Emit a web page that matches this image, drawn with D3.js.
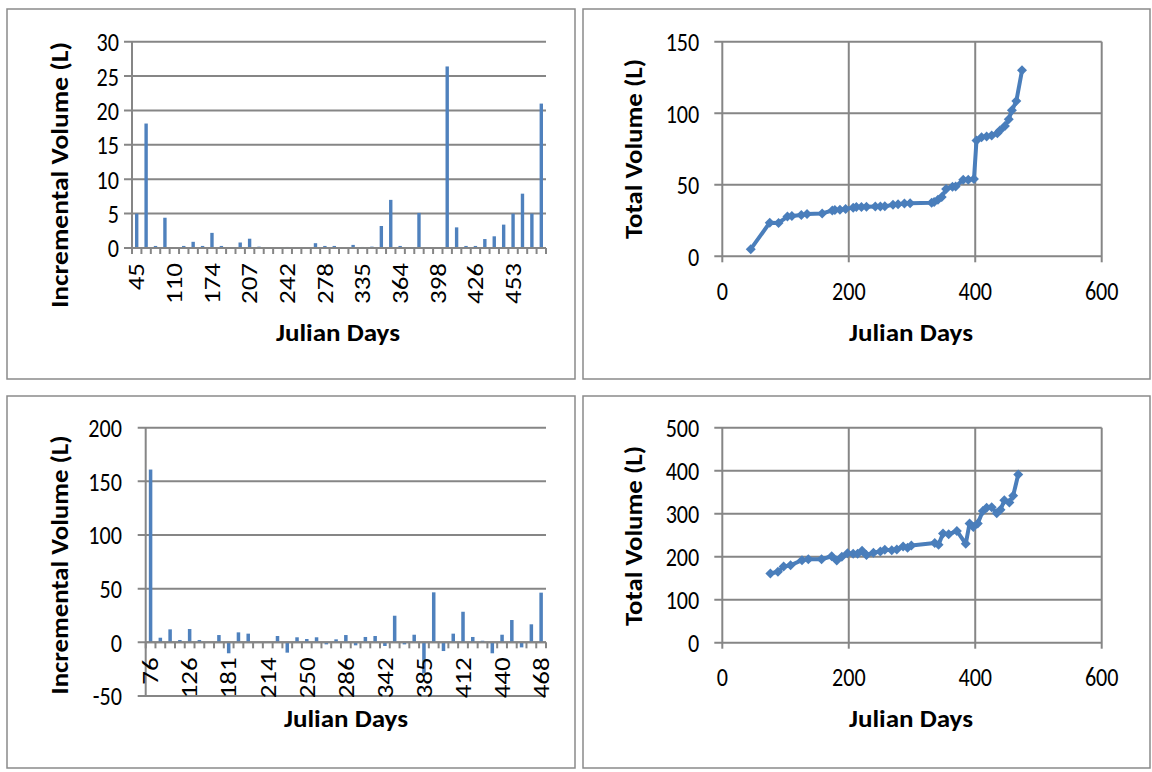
<!DOCTYPE html>
<html>
<head>
<meta charset="utf-8">
<script src="https://cdn.jsdelivr.net/npm/d3@7"></script>
<style>
  body { margin: 0; background: #fff; }
  svg text { font-family: Carlito, "Liberation Sans Narrow", "Open Sans", sans-serif; fill: #000; }
  .tick-label { font-size: 27px; }
  .title { font-size: 24px; font-weight: bold; }
  .grid { stroke: #868686; stroke-width: 2; }
  .box { fill: none; stroke: #8a8a8a; stroke-width: 1.5; }
</style>
</head>
<body>
<svg width="1152" height="772"></svg>
<script>
// ---- data ----
// site 1 (top row)
const days1 = [45, 75, 89, 103, 110, 125, 134, 158, 174, 178, 186, 195, 207, 212, 220, 228,
               242, 250, 257, 270, 278, 288, 297, 331, 335, 341, 347, 354, 364, 369, 381, 389,
               398, 402, 410, 418, 426, 435, 439, 447, 453, 458, 465, 474];
const incr1 = [5, 18.1, 0.3, 4.4, 0, 0.3, 0.9, 0.3, 2.2, 0.3, 0, 0.8, 1.35, 0.2, 0, 0,
               0.15, 0, 0, 0.7, 0.3, 0.3, 0, 0.45, 0.15, 0.2, 3.2, 7.0, 0.3, 0.1, 5.1, 0,
               0, 26.4, 3.0, 0.3, 0.3, 1.3, 1.7, 3.4, 5.0, 7.9, 5.0, 21.0];
const total1 = [5, 23.5, 23.3, 27.8, 28.2, 28.8, 29.5, 30, 32, 32.4, 32.5, 33, 34, 34.5, 34.5, 34.6,
                34.8, 34.8, 34.9, 36, 36.4, 36.9, 37.1, 37.5, 38, 39.5, 41.5, 47, 48.7, 48.8, 53.5, 53.5,
                54, 81, 83.2, 83.7, 84.5, 86, 88, 91, 95.8, 102, 108.5, 130];
// site 2 (bottom row)
const days2 = [76, 88, 97, 108, 126, 136, 157, 173, 181, 189, 198, 207, 214, 221, 228, 239,
               250, 257, 268, 276, 286, 293, 299, 336, 342, 349, 358, 371, 385, 391, 397, 404,
               412, 418, 426, 434, 440, 446, 454, 460, 468];
const incr2 = [161, 4.3, 12.1, 2.2, 12.4, 2.2, 0, 6.8, -10.2, 9.3, 8.1, -0.5, 0, 5.9, -9.6, 4.7,
               3.1, 4.7, -1.9, 2.8, 6.8, -2.8, 5.0, 5.9, -3.4, 24.8, -1.9, 7.1, -28.9, 46.6, -8.1, 8.1,
               28.5, 5.0, 1.5, -10.2, 7.1, 20.8, -4.7, 16.8, 46.3];
const total2 = [161, 165, 177, 180, 192, 194, 194, 201, 191, 200, 208, 207, 207, 214, 204, 209,
                212, 216, 215, 217, 224, 221, 226, 232, 228, 254, 252, 260, 230, 277, 269, 277,
                306, 314, 315, 301, 309, 331, 326, 342, 391];

const yTicks1 = [0, 5, 10, 15, 20, 25, 30];
const yTicks2 = [-50, 0, 50, 100, 150, 200];
const xTicksTot = [0, 200, 400, 600];
const yTicksTot1 = [0, 50, 100, 150];
const yTicksTot2 = [0, 100, 200, 300, 400, 500];

const barColor = "#4f81bd", lineColor = "#4a7ebb";
const squeeze = 0.82;   // text in the picture looks narrowed horizontally
const svg = d3.select("svg");

// panel frames
[[7, 9, 568, 370], [583, 9, 567, 370], [7, 396, 568, 372], [583, 396, 567, 372]]
  .forEach(b => svg.append("rect").attr("class", "box")
      .attr("x", b[0]).attr("y", b[1]).attr("width", b[2]).attr("height", b[3]));

function title(text, x, y, len, rotate) {
    svg.append("text").attr("class", "title")
        .attr("text-anchor", "middle")
        .attr("transform", `translate(${[x, y]})` + (rotate ? " rotate(-90)" : ""))
        .attr("dy", "0.35em")
        .attr("textLength", len).attr("lengthAdjust", "spacingAndGlyphs")
        .text(text);
}

function yLabels(g, ticks, y, xr) {
    g.selectAll("text.yl").data(ticks).join("text").attr("class", "tick-label")
        .attr("text-anchor", "end").attr("dy", "0.35em")
        .attr("transform", d => `translate(${[xr, y(d)]}) scale(${squeeze},1)`)
        .text(d => d);
}

function drawBars(o) {
    const g = svg.append("g");
    const x = d3.scaleBand().domain(d3.range(o.days.length))
            .range([o.x0, o.x1]).paddingInner(0.64).paddingOuter(0.32);
    const y = d3.scaleLinear().domain(o.yDomain).range([o.y0, o.y1]);

    // horizontal gridlines + left ticks
    g.selectAll("line.h").data(o.yTicks).join("line").attr("class", "grid")
        .attr("x1", o.x0 - 8).attr("x2", o.x1)
        .attr("y1", d => y(d)).attr("y2", d => y(d));
    g.append("line").attr("class", "grid")
        .attr("x1", o.x0).attr("x2", o.x0).attr("y1", y(o.yDomain[1])).attr("y2", y(o.yDomain[0]));
    yLabels(g, o.yTicks, y, o.labelX);

    // bars
    g.selectAll("rect.bar").data(o.values).join("rect")
        .attr("x", (d, i) => x(i)).attr("width", x.bandwidth())
        .attr("y", d => y(Math.max(0, d)))
        .attr("height", d => Math.abs(y(d) - y(0)))
        .attr("fill", barColor);

    // category axis at zero, ticks between categories
    g.append("line").attr("class", "grid")
        .attr("x1", o.x0).attr("x2", o.x1).attr("y1", y(0)).attr("y2", y(0));
    g.selectAll("line.ct").data(d3.range(o.days.length + 1)).join("line").attr("class", "grid")
        .attr("x1", i => o.x0 + (o.x1 - o.x0) * i / o.days.length)
        .attr("x2", i => o.x0 + (o.x1 - o.x0) * i / o.days.length)
        .attr("y1", y(0)).attr("y2", y(0) + 6);
    g.selectAll("text.xl").data(o.days.filter((d, i) => i % 4 == 0)).join("text")
        .attr("class", "tick-label").attr("text-anchor", "end").attr("dy", "0.35em")
        .attr("transform", (d, i) =>
            `translate(${[x(i * 4) + x.bandwidth() / 2, y(0) + 15]}) rotate(-90) scale(1,${squeeze})`)
        .text(d => d);
}

function drawLine(o) {
    const g = svg.append("g");
    const x = d3.scaleLinear().domain([0, 600]).range([o.x0, o.x1]);
    const y = d3.scaleLinear().domain(o.yDomain).range([o.y0, o.y1]);

    g.selectAll("line.h").data(o.yTicks).join("line").attr("class", "grid")
        .attr("x1", o.x0 - 8).attr("x2", o.x1).attr("y1", d => y(d)).attr("y2", d => y(d));
    g.selectAll("line.v").data(xTicksTot).join("line").attr("class", "grid")
        .attr("x1", d => x(d)).attr("x2", d => x(d))
        .attr("y1", y(o.yDomain[1])).attr("y2", y(o.yDomain[0]) + 6);
    yLabels(g, o.yTicks, y, o.x0 - 23);
    g.selectAll("text.xl").data(xTicksTot).join("text").attr("class", "tick-label")
        .attr("text-anchor", "middle").attr("dy", "0.35em")
        .attr("transform", d => `translate(${[x(d), y(o.yDomain[0]) + 34]}) scale(${squeeze},1)`)
        .text(d => d);

    const pts = o.days.map((d, i) => [d, o.values[i]]);
    g.append("path").datum(pts)
        .attr("fill", "none").attr("stroke", lineColor).attr("stroke-width", 4)
        .attr("stroke-linejoin", "round")
        .attr("d", d3.line().x(d => x(d[0])).y(d => y(d[1])));
    g.selectAll("path.m").data(pts).join("path")
        .attr("d", d3.symbol(d3.symbolSquare, 50))
        .attr("transform", d => `translate(${[x(d[0]), y(d[1])]}) rotate(45)`)
        .attr("fill", lineColor);
}

drawBars({ days: days1, values: incr1, x0: 132, x1: 546, y0: 248, y1: 41.7,
           yDomain: [0, 30], yTicks: yTicks1, labelX: 119 });
drawBars({ days: days2, values: incr2, x0: 145.7, x1: 546, y0: 696, y1: 427.7,
           yDomain: [-50, 200], yTicks: yTicks2, labelX: 122 });
drawLine({ days: days1, values: total1, x0: 722.3, x1: 1101.7, y0: 256.3, y1: 41.7,
           yDomain: [0, 150], yTicks: yTicksTot1 });
drawLine({ days: days2, values: total2, x0: 722.3, x1: 1101.7, y0: 642.7, y1: 427.7,
           yDomain: [0, 500], yTicks: yTicksTot2 });

title("Incremental Volume (L)", 60, 175, 266, true);
title("Total Volume (L)", 634, 149, 180, true);
title("Incremental Volume (L)", 60, 565, 259, true);
title("Total Volume (L)", 634, 536, 180, true);
title("Julian Days", 338, 333, 124);
title("Julian Days", 911, 333, 124);
title("Julian Days", 346, 719, 124);
title("Julian Days", 911, 719, 124);
</script>
</body>
</html>
